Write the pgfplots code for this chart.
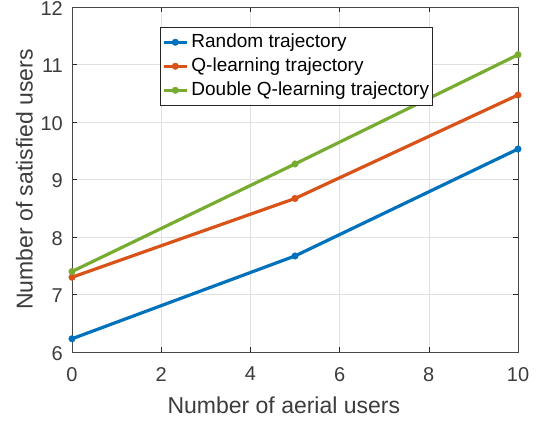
\documentclass[border=0pt]{standalone}
\usepackage{fontspec}
\setmainfont{Liberation Sans}
\usepackage{pgfplots}
\pgfplotsset{compat=1.18}
\definecolor{mblue}{rgb}{0,0.447,0.741}
\definecolor{morange}{rgb}{0.85,0.325,0.098}
\definecolor{mgreen}{rgb}{0.466,0.674,0.188}
\definecolor{axgray}{rgb}{0.15,0.15,0.15}
\begin{document}
\begin{tikzpicture}
\path[use as bounding box] (-72pt,-68pt) rectangle (465pt,352pt);
\begin{axis}[
  scale only axis, width=446pt, height=345pt,
  xmin=0, xmax=10, ymin=6, ymax=12,
  xtick={0,2,4,6,8,10}, ytick={6,7,8,9,10,11,12},
  grid=major, major grid style={color=black!12, line width=0.5pt},
  axis line style={color=axgray!85, line width=0.6pt},
  tick style={color=axgray, line width=0.6pt},
  tick align=inside, major tick length=5pt,
  /pgf/number format/assume math mode=true,
  ticklabel style={font=\fontsize{20}{20}\selectfont, text=axgray!90},
  xticklabel style={inner sep=0pt, yshift=-15pt},
  yticklabel style={inner sep=0pt, xshift=-9pt, yshift=-1.5pt},
  xlabel={Number of aerial users},
  ylabel={Number of satisfied users},
  xlabel style={font=\fontsize{23}{23}\selectfont, text=axgray!90, inner sep=0pt, at={(axis description cs:0.475,0)}, anchor=north, yshift=-44.5pt},
  ylabel style={font=\fontsize{23}{23}\selectfont, text=axgray!90, inner sep=0pt, at={(axis description cs:-0.0874,0.5)}, anchor=south},
  legend style={at={(axis description cs:0.1973,0.942)}, anchor=north west, draw=axgray, line width=0.5pt, fill=white, inner xsep=2pt, inner ysep=5pt, font=\fontsize{19}{19}\selectfont, text=black, row sep=4pt, column sep=2pt, nodes={inner sep=1pt, text height=14pt, text depth=4pt, anchor=west}},
  legend cell align=left,
  legend image code/.code={\draw[#1, mark repeat=2, mark phase=2] plot coordinates {(0pt,0pt)(11.5pt,0pt)(23pt,0pt)};},
  every axis plot/.append style={line width=3.2pt, line join=round, mark=*, mark size=3.3pt, mark options={line width=0.4pt}},
]
\addplot[mblue] coordinates {(0,6.23)(5,7.67)(10,9.53)};
\addlegendentry{Random trajectory}
\addplot[morange] coordinates {(0,7.30)(5,8.67)(10,10.47)};
\addlegendentry{Q-learning trajectory}
\addplot[mgreen] coordinates {(0,7.40)(5,9.27)(10,11.17)};
\addlegendentry{Double Q-learning trajectory}
\end{axis}
\end{tikzpicture}
\end{document}
